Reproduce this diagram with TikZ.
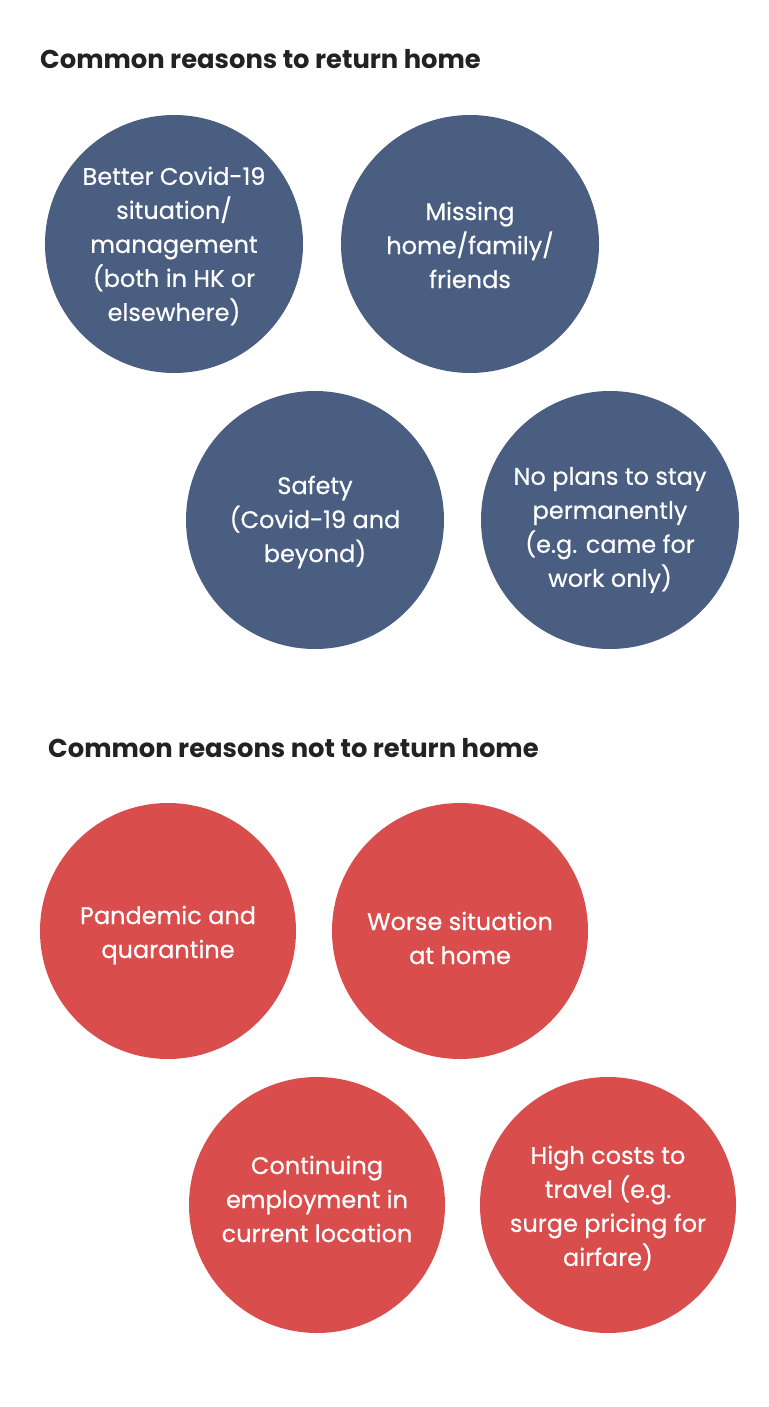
\documentclass[tikz,border=0pt]{standalone}
\usepackage{fontspec}
\setmainfont{Poppins}
\newfontfamily\bubblefont{Poppins}[FakeBold=0.5]
\definecolor{cblue}{HTML}{4A5E82}
\definecolor{cred}{HTML}{D94D4D}
\definecolor{ctitle}{HTML}{222222}
\begin{document}
\begin{tikzpicture}[x=1pt,y=-1pt,
  bubble/.style={circle,minimum size=258pt,inner sep=0pt},
  blue/.style={bubble,fill=cblue},
  red/.style={bubble,fill=cred,minimum size=256pt},
  btext/.style={inner sep=0pt,text=white,align=center,
    font=\bubblefont\fontsize{24}{34}\selectfont},
  heading/.style={anchor=west,inner sep=0pt,text=ctitle,font=\fontsize{25.8}{30}\selectfont\bfseries}]
\useasboundingbox[fill=white] (0,0) rectangle (768,1407);
\node[heading] (t1) at (40,59) {Common reasons to return home};
\node[blue] (b1) at (174,244) {};
\node[blue] (b2) at (470,244) {};
\node[blue] (b3) at (315,520) {};
\node[blue] (b4) at (610,520) {};
\node[btext] (b1t) at ([yshift=-2pt]b1.center) {Better Covid-19\\situation/\\management\\(both in HK or\\elsewhere)};
\node[btext] (b2t) at ([yshift=-1pt]b2.center) {Missing\\home/family/\\friends};
\node[btext] (b3t) at ([yshift=-2pt]b3.center) {Safety\\(Covid-19 and\\beyond)};
\node[btext] (b4t) at ([yshift=-10pt]b4.center) {No plans to stay\\permanently\\(e.g. came for\\work only)};
\node[heading] (t2) at (48,748) {Common reasons not to return home};
\node[red] (r1) at (168,931) {};
\node[red] (r2) at (460,931) {};
\node[red] (r3) at (317,1205) {};
\node[red] (r4) at (608,1205) {};
\node[btext] (r1t) at ([yshift=-4pt]r1.center) {Pandemic and\\quarantine};
\node[btext] (r2t) at ([yshift=-7pt]r2.center) {Worse situation\\at home};
\node[btext] (r3t) at ([yshift=6pt]r3.center) {Continuing\\employment in\\current location};
\node[btext] (r4t) at ([yshift=-3pt]r4.center) {High costs to\\travel (e.g.\\surge pricing for\\airfare)};
\end{tikzpicture}
\end{document}
